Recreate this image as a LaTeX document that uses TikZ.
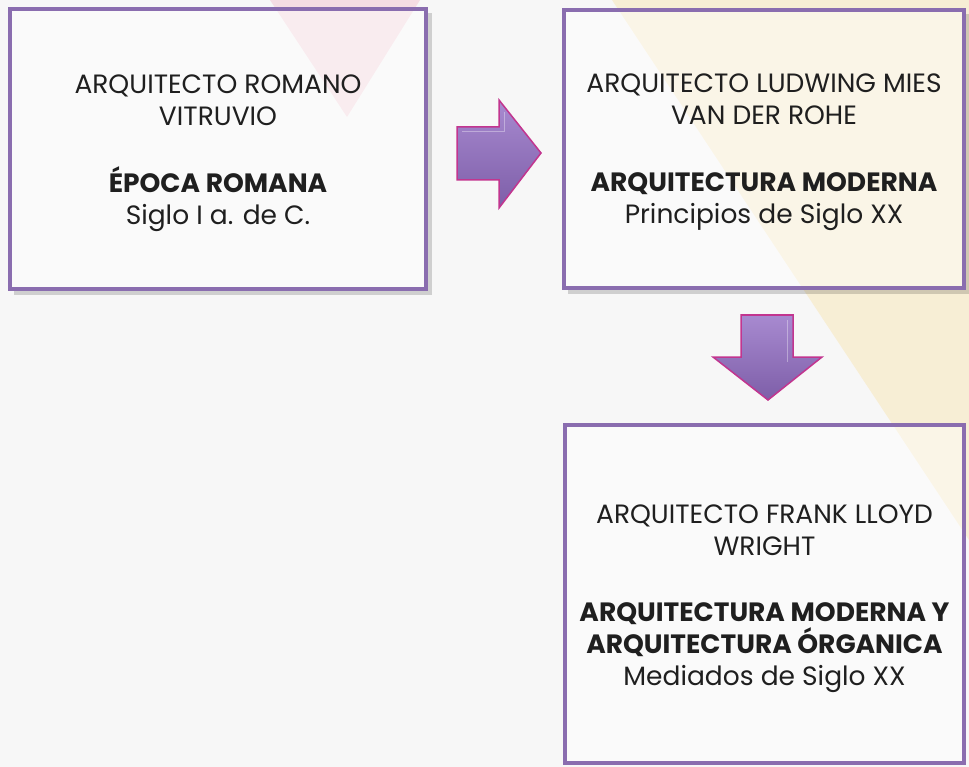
\documentclass[tikz,border=0pt]{standalone}
\usepackage{fontspec}
\setmainfont{Poppins}
\definecolor{bgc}{HTML}{F7F7F7}
\definecolor{boxc}{HTML}{8A6DAF}
\definecolor{pinkbg}{HTML}{F5DDE3}
\definecolor{beigebg}{HTML}{F7EED5}
\definecolor{arrtop}{HTML}{A88AD0}
\definecolor{arrbot}{HTML}{7D5EA8}
\definecolor{arredge}{HTML}{C2358F}
\tikzset{
  box/.style={draw=boxc, line width=4pt, fill=white, fill opacity=0.45, rectangle, inner sep=0pt},
  boxtext/.style={align=center, inner sep=0pt, font=\fontsize{26.5}{32}\selectfont, text=black!88},
  boxshadow/.style={draw=black, opacity=0.16, line width=4pt},
  blockarrow/.style={top color=arrtop, bottom color=arrbot, draw=arredge, line width=1.5pt, line join=miter},
  bevel/.style={draw=white, opacity=0.35, line width=1pt}
}
\begin{document}
\begin{tikzpicture}[x=1pt,y=-1pt]
\useasboundingbox[fill=bgc] (0,0) rectangle (969,767);
% background decoration
\fill[pinkbg] (270,0) -- (420,0) -- (347,117) -- cycle;
\fill[beigebg] (612,0) -- (969,0) -- (969,540) -- cycle;
% box shadows
\draw[boxshadow] (14,293) -- (430,293) -- (430,13);
\draw[boxshadow] (568,292) -- (968,292) -- (968,14);
% boxes
\node[box, minimum width=416pt, minimum height=280pt] (b1) at (218,149) {};
\node[box, minimum width=400pt, minimum height=278pt] (b2) at (764,149) {};
\node[box, minimum width=399pt, minimum height=338pt] (b3) at (764.5,594) {};
% texts
\node[boxtext] (t1) at ([yshift=-4pt]b1.center)
  {ARQUITECTO ROMANO\\VITRUVIO\\[35pt]\textbf{ÉPOCA ROMANA}\\Siglo I a. de C.};
\node[boxtext] (t2) at ([yshift=-3pt]b2.center)
  {ARQUITECTO LUDWING MIES\\VAN DER ROHE\\[35pt]\textbf{ARQUITECTURA MODERNA}\\Principios de Siglo XX};
\node[boxtext] (t3) at ([yshift=-5pt]b3.center)
  {ARQUITECTO FRANK LLOYD\\WRIGHT\\[34pt]\textbf{ARQUITECTURA MODERNA Y}\\\textbf{ARQUITECTURA ÓRGANICA}\\Mediados de Siglo XX};
% block arrows
\draw[blockarrow] (457,127) -- (499,127) -- (499,100) -- (541,153) -- (499,208) -- (499,180) -- (457,180) -- cycle;
\draw[bevel] (462,132) -- (504,132) -- (504,112);
\draw[blockarrow] (741,315) -- (793,315) -- (793,357) -- (822,357) -- (768,400) -- (713,357) -- (741,357) -- cycle;
\draw[bevel] (787,320) -- (787,362);
\end{tikzpicture}
\end{document}
